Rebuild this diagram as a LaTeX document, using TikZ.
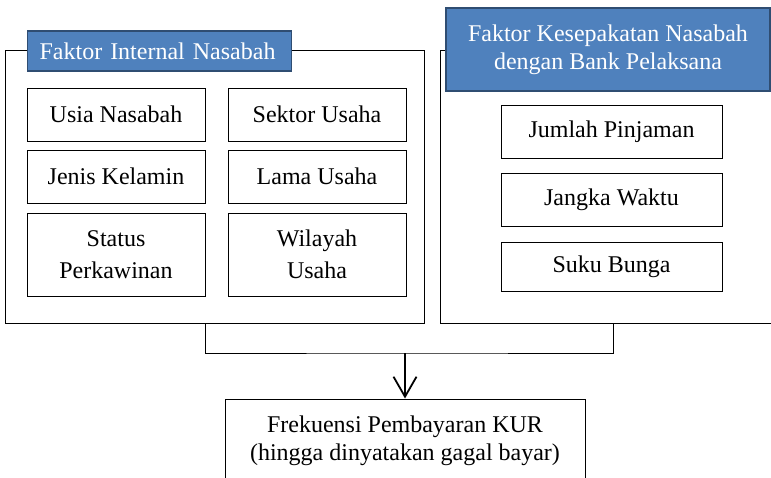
\documentclass[tikz,border=0pt]{standalone}
\usepackage{fontspec}
\setmainfont{Liberation Serif}
\usetikzlibrary{positioning,arrows.meta,fit}
\definecolor{titleblue}{HTML}{4F81BD}
\definecolor{titleedge}{HTML}{2F4D72}

\begin{document}
\begin{tikzpicture}[
    x=0.5pt, y=-0.5pt,
    outbox/.style={
        draw,
        line width=0.5pt,
        inner sep=0pt
        },
    lbox/.style={
        draw,
        line width=0.5pt,
        minimum width=89pt,
        minimum height=26.5pt,
        align=center,
        font=\fontsize{12}{16}\selectfont
        },
    rbox/.style={
        draw,
        line width=0.5pt,
        minimum width=110.5pt,
        minimum height=26.5pt,
        align=center,
        font=\fontsize{12}{14}\selectfont
        },
    titlebox/.style={
        draw=titleedge,
        fill=titleblue,
        line width=0.6pt,
        text=white,
        font=\fontsize{12}{14}\selectfont
        },
    >={Straight Barb[length=10pt,width=11.5pt]}
]
\clip (0,0) rectangle (771,477);

% outer frames
\node[outbox, fit={(5,50) (424,323)}] (outerL) {};
\node[outbox, fit={(440,50) (786,323)}] (outerR) {};

% titles
\node[titlebox, anchor=west, minimum height=20pt, text width=120pt, inner xsep=6pt, align=left] (titleL) at (27,51) {Faktor Internal Nasabah};
\node[titlebox, minimum width=162pt, minimum height=41.5pt, align=center] (titleR) at (608,49.5) {Faktor Kesepakatan Nasabah\\dengan Bank Pelaksana};

% internal factors
\node[lbox] (usia) at (116,114.5) {Usia Nasabah};
\node[lbox, right=11pt of usia] (sektor) {Sektor Usaha};
\node[lbox, below=4pt of usia] (kelamin) {Jenis Kelamin};
\node[lbox, below=4pt of sektor] (lama) {Lama Usaha};
\node[lbox, below=4.5pt of kelamin, minimum height=41.5pt] (status) {Status\\Perkawinan};
\node[lbox, below=4.5pt of lama, minimum height=41.5pt] (wilayah) {Wilayah\\Usaha};

% agreement factors
\node[rbox] (pinjaman) at (611.5,131.5) {Jumlah Pinjaman};
\node[rbox, below=7pt of pinjaman] (waktu) {Jangka Waktu};
\node[rbox, below=7.5pt of waktu, minimum height=24.5pt] (bunga) {Suku Bunga};

% result
\node[outbox, minimum width=180pt, minimum height=41.5pt, align=center, font=\fontsize{12}{14}\selectfont] (hasil) at (405,440.5) {Frekuensi Pembayaran KUR\\(hingga dinyatakan gagal bayar)};

% connectors
\coordinate (join) at (405,353);
\draw[line width=0.5pt] (usia.east |- outerL.south) |- (join) -| (outerR.south);
\draw[->, line width=0.9pt] (join) -- (hasil.north);

\end{tikzpicture}
\end{document}
